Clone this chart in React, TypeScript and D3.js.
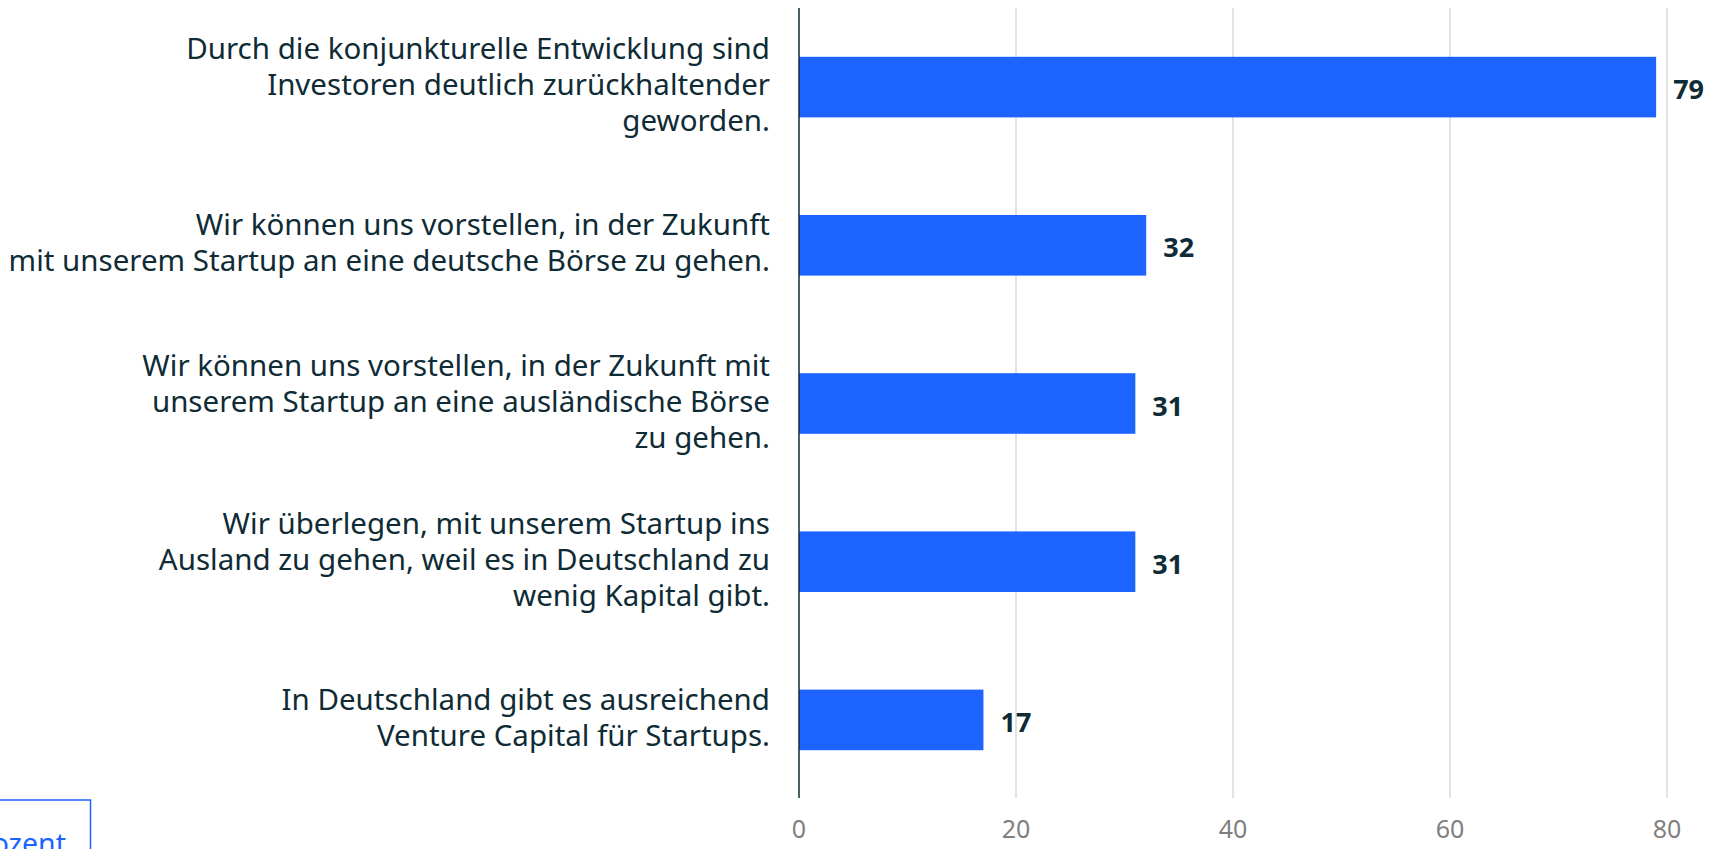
import React, { useRef, useEffect } from 'react'
import { select, scaleLinear, scaleBand } from 'd3'

// answers, one entry per bar (already broken into lines as in the source)
const categories = [
    ['Durch die konjunkturelle Entwicklung sind', 'Investoren deutlich zurückhaltender', 'geworden.'],
    ['Wir können uns vorstellen, in der Zukunft', 'mit unserem Startup an eine deutsche Börse zu gehen.'],
    ['Wir können uns vorstellen, in der Zukunft mit', 'unserem Startup an eine ausländische Börse', 'zu gehen.'],
    ['Wir überlegen, mit unserem Startup ins', 'Ausland zu gehen, weil es in Deutschland zu', 'wenig Kapital gibt.'],
    ['In Deutschland gibt es ausreichend', 'Venture Capital für Startups.'],
]
const values = [79, 32, 31, 31, 17]
const xTicks = [0, 20, 40, 60, 80]
const unitLabel = 'Prozent'

const FONT = '"Noto Sans", "Open Sans", sans-serif'
const TEXT = '#0f2b35'
const BLUE = '#1d63ff'

function BarChart() {

    const svgRef = useRef<SVGSVGElement>(null)

    useEffect(() => {
        const svg = select(svgRef.current)
        svg.selectAll('*').remove()

        const xScale = scaleLinear()
            .domain([0, 80])
            .range([799, 1667])

        const yScale = scaleBand<number>()
            .domain(values.map((d, i) => i))
            .range([8, 799])
            .paddingInner(0.617)
            .paddingOuter(0.3085)

        // grid
        svg.append('g')
            .selectAll('line')
            .data(xTicks.slice(1))
            .enter()
            .append('line')
            .attr('x1', d => xScale(d))
            .attr('x2', d => xScale(d))
            .attr('y1', 8)
            .attr('y2', 798)
            .attr('stroke', '#e2e2e2')
            .attr('stroke-width', 2)

        // tick labels
        svg.append('g')
            .selectAll('text')
            .data(xTicks)
            .enter()
            .append('text')
            .attr('x', d => xScale(d))
            .attr('y', 838)
            .attr('text-anchor', 'middle')
            .attr('font-family', FONT)
            .attr('font-size', 25)
            .attr('fill', '#808080')
            .text(d => d)

        // bars
        svg.append('g')
            .selectAll('rect')
            .data(values)
            .enter()
            .append('rect')
            .attr('x', xScale(0))
            .attr('y', (d, i) => yScale(i)!)
            .attr('width', d => xScale(d) - xScale(0))
            .attr('height', yScale.bandwidth())
            .attr('fill', BLUE)

        // value labels
        svg.append('g')
            .selectAll('text')
            .data(values)
            .enter()
            .append('text')
            .attr('x', d => xScale(d) + 17)
            .attr('y', (d, i) => yScale(i)! + yScale.bandwidth() / 2 + 12)
            .attr('font-family', FONT)
            .attr('font-size', 27)
            .attr('font-weight', 'bold')
            .attr('fill', TEXT)
            .text(d => d)

        // category labels
        const lineH = 36
        const labels = svg.append('g')
            .selectAll('text')
            .data(categories)
            .enter()
            .append('text')
            .attr('text-anchor', 'end')
            .attr('font-family', FONT)
            .attr('font-size', 29.5)
            .attr('fill', TEXT)

        labels.each(function (lines, i) {
            const c = yScale(i)! + yScale.bandwidth() / 2
            const top = c - (lines.length - 1) * lineH / 2 + 8
            select(this).selectAll('tspan')
                .data(lines)
                .enter()
                .append('tspan')
                .attr('x', 770)
                .attr('y', (l, j) => top + j * lineH)
                .text(l => l)
        })

        // axis line
        svg.append('line')
            .attr('x1', xScale(0))
            .attr('x2', xScale(0))
            .attr('y1', 8)
            .attr('y2', 798)
            .attr('stroke', TEXT)
            .attr('stroke-width', 1.5)

        // unit box, cut by the left and bottom edge
        svg.append('rect')
            .attr('x', -40)
            .attr('y', 800)
            .attr('width', 130.5)
            .attr('height', 70)
            .attr('fill', 'none')
            .attr('stroke', BLUE)
            .attr('stroke-width', 1.5)
        svg.append('text')
            .attr('x', 66)
            .attr('y', 854)
            .attr('text-anchor', 'end')
            .attr('font-family', FONT)
            .attr('font-size', 28.5)
            .attr('fill', BLUE)
            .text(unitLabel)

    }, [])

    return (
        <svg ref={svgRef} width="1713" height="849"
            style={{ position: 'absolute', left: 0, top: 0, background: '#fff' }}></svg>
    )
}

export default function App() {
    return <BarChart />
}
